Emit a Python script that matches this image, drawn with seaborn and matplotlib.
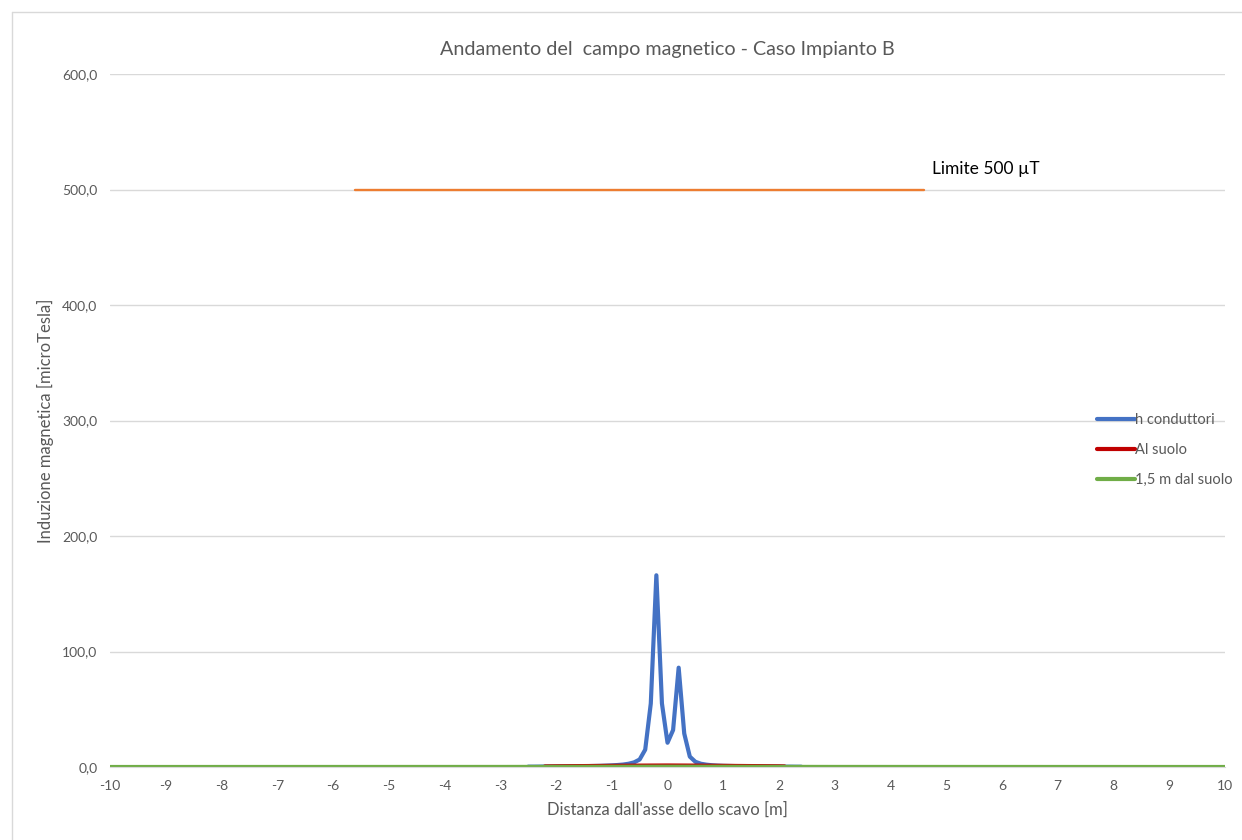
"""
Andamento del campo magnetico - Caso Impianto B
"""
import numpy as np
import pandas as pd
import seaborn as sns
import matplotlib.pyplot as plt
from matplotlib.lines import Line2D

# h conduttori (curva blu)
x_cond = [-2.5, -2.4, -2.3, -2.2, -2.1, -2.0, -1.9, -1.8, -1.7, -1.6,
          -1.5, -1.4, -1.3, -1.2, -1.1, -1.0, -0.9, -0.8, -0.7, -0.6,
          -0.5, -0.4, -0.3, -0.2, -0.1, 0.0, 0.1, 0.2, 0.3, 0.4,
          0.5, 0.6, 0.7, 0.8, 0.9, 1.0, 1.1, 1.2, 1.3, 1.4,
          1.5, 1.6, 1.7, 1.8, 1.9, 2.0, 2.1, 2.2, 2.3, 2.4]
y_cond = [0.3, 0.3, 0.35, 0.4, 0.4, 0.45, 0.5, 0.55, 0.6, 0.65,
          0.7, 0.8, 0.9, 1.0, 1.2, 1.4, 1.7, 2.1, 2.8, 4.0,
          6.5, 15.0, 55.0, 166.0, 55.0, 21.0, 32.0, 86.0, 29.0, 9.0,
          4.5, 2.8, 2.0, 1.5, 1.2, 1.0, 0.9, 0.8, 0.7, 0.6,
          0.55, 0.5, 0.45, 0.4, 0.4, 0.35, 0.3, 0.3, 0.25, 0.25]

# Al suolo
x_suolo = [-2.2, -2.0, -1.5, -1.0, -0.5, 0.0, 0.5, 1.0, 1.5, 2.0, 2.1]
y_suolo = [0.5, 0.6, 0.8, 1.0, 1.2, 1.3, 1.2, 1.0, 0.8, 0.6, 0.5]

# 1,5 m dal suolo
x_15m = [-10, -3, -2, -1, 0, 1, 2, 3, 10]
y_15m = [0.0, 0.05, 0.1, 0.2, 0.25, 0.2, 0.1, 0.05, 0.0]

# limite 500 microTesla
x_lim = [-5.6, 4.6]
y_lim = [500, 500]

x_ticks = list(range(-10, 11))
y_ticks = [0, 100, 200, 300, 400, 500, 600]
y_tick_labels = ["0,0", "100,0", "200,0", "300,0", "400,0", "500,0", "600,0"]

sns.set_style("white")
plt.rcParams['font.family'] = ['Lato', 'DejaVu Sans']
plt.rcParams['axes.unicode_minus'] = False

grey = "#595959"

fig = plt.figure(figsize=(12.42, 8.4), dpi=100)
ax = fig.add_axes([0.0886, 0.0869, 0.8977, 0.825])

sns.lineplot(x=x_lim, y=y_lim, color="#ED7D31", linewidth=1.7, ax=ax)
sns.lineplot(x=x_cond, y=y_cond, color="#4472C4", linewidth=3, ax=ax,
             label="h conduttori")
sns.lineplot(x=x_suolo, y=y_suolo, color="#C00000", linewidth=3, ax=ax,
             label="Al suolo")
sns.lineplot(x=x_15m, y=y_15m, color="#70AD47", linewidth=3, ax=ax,
             label="1,5 m dal suolo")

ax.set_xlim(-10, 10)
ax.set_ylim(0, 600)
ax.set_xticks(x_ticks)
ax.set_xticklabels([str(v) for v in x_ticks])
ax.set_yticks(y_ticks)
ax.set_yticklabels(y_tick_labels)
ax.tick_params(axis="both", length=0, labelsize=10, colors=grey, pad=9)
ax.yaxis.grid(True, color="#d9d9d9", linewidth=1)
ax.set_axisbelow(True)
for side in ["top", "right", "left"]:
    ax.spines[side].set_visible(False)
ax.spines["bottom"].set_color("#d9d9d9")

ax.set_title("Andamento del  campo magnetico - Caso Impianto B",
             fontsize=14.2, color=grey, pad=14)
ax.set_xlabel("Distanza dall'asse dello scavo [m]", fontsize=12, color=grey,
              labelpad=7)
ax.set_ylabel("Induzione magnetica [microTesla]", fontsize=12, color=grey,
              labelpad=6)

ax.text(4.75, 518, "Limite 500 \u00b5T", fontsize=12.5, color="black",
        va="center", ha="left")

leg = ax.legend(loc="center left", bbox_to_anchor=(0.885, 0.457), frameon=False,
                fontsize=10.5, handlelength=2.6, labelspacing=1.1,
                handletextpad=0.05, borderaxespad=0, borderpad=0)
for t in leg.get_texts():
    t.set_color(grey)

# cornice del grafico
fig.add_artist(Line2D([12 / 1242, 1], [1 - 12 / 840, 1 - 12 / 840],
                      color="#d9d9d9", linewidth=1, transform=fig.transFigure))
fig.add_artist(Line2D([12 / 1242, 12 / 1242], [0, 1 - 12 / 840],
                      color="#d9d9d9", linewidth=1, transform=fig.transFigure))

plt.savefig("out.png", dpi=100)
